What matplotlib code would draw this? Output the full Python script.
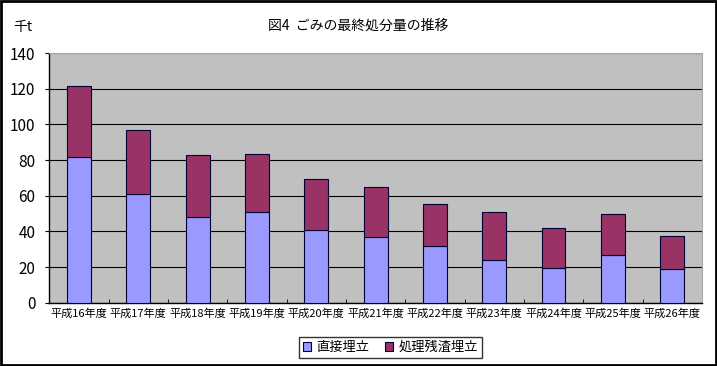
import matplotlib
matplotlib.use("Agg")
import matplotlib.pyplot as plt
from matplotlib.patches import Rectangle

plt.rcParams['font.family'] = ['Noto Sans CJK JP', 'DejaVu Sans']

years = ['平成16年度', '平成17年度', '平成18年度', '平成19年度', '平成20年度', '平成21年度',
         '平成22年度', '平成23年度', '平成24年度', '平成25年度', '平成26年度']
direct = [81.5, 61.1, 48.2, 51.0, 40.6, 36.6, 31.9, 24.1, 19.6, 26.7, 19.0]
residue = [40.3, 35.5, 34.7, 32.5, 28.7, 28.2, 23.2, 26.5, 22.1, 22.8, 18.5]

fig = plt.figure(figsize=(7.17, 3.66), dpi=100)
ax = fig.add_axes([0.0688, 0.173, 0.9102, 0.682])
ax.set_facecolor('#C0C0C0')

x = range(len(years))
ax.bar(x, direct, width=0.4, color='#9999FF', edgecolor='#000033', linewidth=0.8,
       label='直接埋立', zorder=3)
ax.bar(x, residue, width=0.4, bottom=direct, color='#993366', edgecolor='#000033',
       linewidth=0.8, label='処理残渣埋立', zorder=3)

ax.set_xlim(-0.5, len(years) - 0.5)
ax.set_ylim(0, 140)
ax.set_yticks(range(0, 141, 20))
ax.yaxis.grid(True, color='black', linewidth=0.8, zorder=1)
ax.set_axisbelow(True)

ax.set_xticks(list(x))
ax.set_xticklabels(years, fontsize=8)
ax.set_xticks([i + 0.5 for i in range(len(years) - 1)], minor=True)
ax.tick_params(axis='x', which='major', length=0, pad=4)
ax.tick_params(axis='x', which='minor', length=3, direction='in', color='black')
ax.tick_params(axis='y', length=3, direction='out', labelsize=11, pad=7)

for s in ['top', 'right']:
    ax.spines[s].set_color('#A8A8A8')
for s in ['left', 'bottom']:
    ax.spines[s].set_color('black')
    ax.spines[s].set_linewidth(1.0)

fig.text(0.5, 0.93, '図4  ごみの最終処分量の推移', ha='center', va='center', fontsize=10)
fig.text(0.032, 0.925, '千t', ha='center', va='center', fontsize=10)

leg = fig.legend(loc='center', bbox_to_anchor=(0.545, 0.05), ncol=2, fontsize=9.5,
                 frameon=True, fancybox=False, handlelength=0.6, handleheight=0.6,
                 handletextpad=0.4, columnspacing=1.2, borderpad=0.3)
leg.get_frame().set_edgecolor('black')
leg.get_frame().set_linewidth(1.0)

fig.patches.append(Rectangle((0.002, 0.003), 0.996, 0.994, transform=fig.transFigure,
                             fill=False, edgecolor='black', linewidth=2))

fig.savefig('out.png', dpi=100)
